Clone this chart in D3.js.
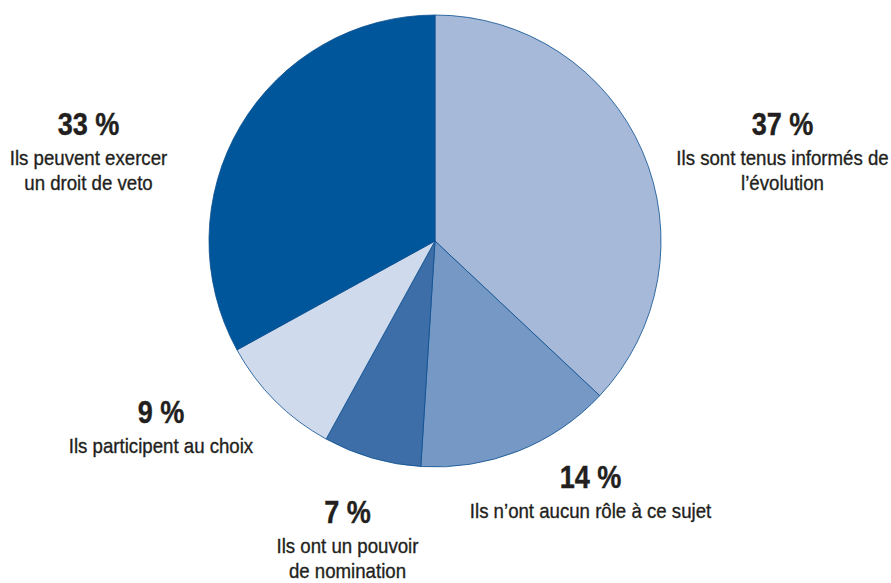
<!DOCTYPE html>
<html><head><meta charset="utf-8">
<script src="https://cdn.jsdelivr.net/npm/d3@7"></script>
<style>body{margin:0;background:#fff}</style>
</head><body>
<svg id="c" width="891" height="583"></svg>
<script>
const categories = ["Ils sont tenus informés de l’évolution","Ils n’ont aucun rôle à ce sujet","Ils ont un pouvoir de nomination","Ils participent au choix","Ils peuvent exercer un droit de veto"];
const values = [37, 14, 7, 9, 33];
const pctLabels = ["37 %","14 %","7 %","9 %","33 %"];
const labelLines = [["Ils sont tenus informés de","l’évolution"],["Ils n’ont aucun rôle à ce sujet"],["Ils ont un pouvoir","de nomination"],["Ils participent au choix"],["Ils peuvent exercer","un droit de veto"]];
const colors = ["#a6b9d9","#7598c5","#3d6ea8","#d0daed","#00569a"];
const labelPos = [[782.5,135],[590.5,488],[347.5,523],[161,423],[88.5,135]];

const svg = d3.select("#c");
const cx = 435, cy = 241, r = 226;
const pie = d3.pie().sort(null).value(d=>d);
const arc = d3.arc().innerRadius(0).outerRadius(r);
const g = svg.append("g").attr("transform",`translate(${cx},${cy})`);
g.selectAll("path").data(pie(values)).join("path")
  .attr("d",arc).attr("fill",(d,i)=>colors[i])
  .attr("stroke","#0b4f8f").attr("stroke-width",0.8);

const font = "'Liberation Sans',Arial,sans-serif";
values.forEach((v,i)=>{
  const [x,y] = labelPos[i];
  svg.append("text").attr("transform",`translate(${x},${y}) scale(0.86,1)`)
    .attr("text-anchor","middle")
    .attr("font-family",font).attr("font-weight","bold").attr("font-size",31.5)
    .attr("fill","#231f20").attr("stroke","#231f20").attr("stroke-width",0.4).text(pctLabels[i]);
  labelLines[i].forEach((l,j)=>{
    svg.append("text").attr("transform",`translate(${x},${y+30+25*j}) scale(0.91,1)`)
      .attr("text-anchor","middle")
      .attr("font-family",font).attr("font-size",20.5)
      .attr("fill","#231f20").attr("stroke","#231f20").attr("stroke-width",0.35).text(l);
  });
});
</script>
</body></html>
